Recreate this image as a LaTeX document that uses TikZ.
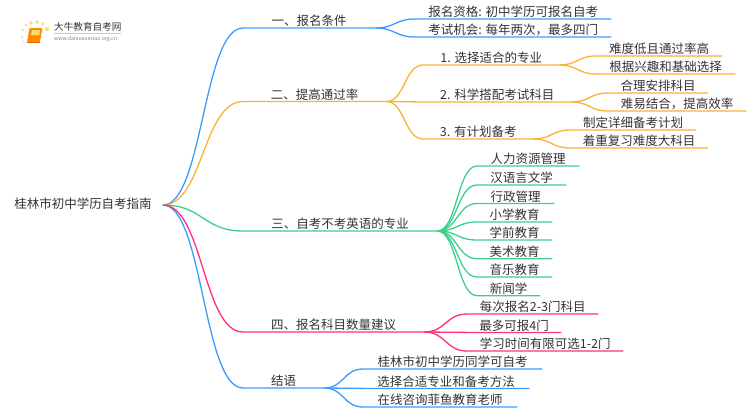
\documentclass[tikz,border=0pt]{standalone}
\usepackage{fontspec}
\setmainfont{Noto Sans CJK SC}
\usetikzlibrary{calc}
\definecolor{txtc}{HTML}{333333}
\definecolor{bluec}{HTML}{3A9BFF}
\definecolor{orgc}{HTML}{F9B233}
\definecolor{grnc}{HTML}{3CD08C}
\definecolor{pnkc}{HTML}{FF2F7E}
\definecolor{dotc}{HTML}{FFD878}
\tikzset{
	lab/.style={anchor=south west,inner sep=0pt,minimum height=12,text height=9.6,text depth=2,text=txtc,font=\fontsize{12.5}{13}\selectfont},
	rootn/.style={inner xsep=11,inner ysep=0pt,text height=9.6,text depth=2,text=txtc,font=\fontsize{12.5}{13}\selectfont},
	bl/.style={draw=bluec,line width=1.3pt},
	og/.style={draw=orgc,line width=1.3pt},
	gr/.style={draw=grnc,line width=1.3pt},
	pk/.style={draw=pnkc,line width=1.3pt},
	link/.style={to path={let \p1=(\tikztostart),\p2=(\tikztotarget),\n1={.5*(\x2-\x1)} in .. controls ({\x1+\n1},\y1) and ({\x2-\n1},\y2) .. (\tikztotarget)}}
}
\begin{document}
\begin{tikzpicture}[x=1pt,y=-1pt]
	\useasboundingbox (0,0) rectangle (750,410);
	% logo
	\foreach \px/\py/\pr in {47/29/2.2,43/24/1.6,37/22/1.9,31/23/1.8,26/25/1.5,23/30/1.3,22/37/1.1,23.5/42/.8}
		\fill[dotc] (\px,\py) circle (\pr);
	\fill[rounded corners=1pt,orange!90!yellow] (29.5,28) -- (42.5,28) -- (40,42) -- (27,42) -- cycle;
	\fill[rounded corners=.5pt,orange!45!yellow!60] (32,30) -- (40,30) -- (39.4,35) -- (31,35) -- cycle;
	\draw[orange!70!red,line width=.7pt] (27,42.5) -- (40,42.5);
	\node[inner sep=0pt,anchor=west,text=txtc,font=\fontsize{9.6}{10}\selectfont] (logot) at (54,27) {大牛教育自考网};
	\node[inner sep=0pt,anchor=west,text=gray,font=\fontsize{5.2}{6}\selectfont] (logou) at (54,39) {www.daniuxuexiao.org.cn};
	\draw[black!20,line width=.4pt] (logot.south west)++(0,1.5) -- ++(67,0);
	% root
	\node[rootn] (root) at (83,205) {桂林市初中学历自考指南};
	% level one
	\node[lab,minimum width=132] (a) at (243,28) {一、报名条件};
	\node[lab,minimum width=143] (b) at (243,101.5) {二、提高通过率};
	\node[lab,minimum width=194] (c) at (243,231) {三、自考不考英语的专业};
	\node[lab,minimum width=181] (d) at (243,332) {四、报名科目数量建议};
	\node[lab,minimum width=81] (e) at (243,388) {结语};
	% a
	\node[lab,minimum width=196] (a1) at (415,19) {报名资格: 初中学历可报名自考};
	\node[lab,minimum width=196] (a2) at (415,37) {考试机会: 每年两次，最多四门};
	% b
	\node[lab,minimum width=136] (b1) at (423,65) {1. 选择适合的专业};
	\node[lab,minimum width=148] (b2) at (423,102) {2. 科学搭配考试科目};
	\node[lab,minimum width=110] (b3) at (423,139) {3. 有计划备考};
	\node[lab,minimum width=126] (b11) at (596,56) {难度低且通过率高};
	\node[lab,minimum width=139] (b12) at (596,74) {根据兴趣和基础选择};
	\node[lab,minimum width=100] (b21) at (608,93) {合理安排科目};
	\node[lab,minimum width=138] (b22) at (608,111) {难易结合，提高效率};
	\node[lab,minimum width=126] (b31) at (570,130) {制定详细备考计划};
	\node[lab,minimum width=138] (b32) at (570,148) {着重复习难度大科目};
	% c
	\node[lab,minimum width=102] (c1) at (477,166) {人力资源管理};
	\node[lab,minimum width=89] (c2) at (477,185) {汉语言文学};
	\node[lab,minimum width=77] (c3) at (477,203.5) {行政管理};
	\node[lab,minimum width=75] (c4) at (477,222) {小学教育};
	\node[lab,minimum width=75] (c5) at (477,240) {学前教育};
	\node[lab,minimum width=75] (c6) at (477,258.7) {美术教育};
	\node[lab,minimum width=75] (c7) at (477,277) {音乐教育};
	\node[lab,minimum width=63] (c8) at (477,295.7) {新闻学};
	% d
	\node[lab,minimum width=131] (d1) at (467,314) {每次报名2-3门科目};
	\node[lab,minimum width=94] (d2) at (467,332.4) {最多可报4门};
	\node[lab,minimum width=156] (d3) at (467,351) {学习时间有限可选1-2门};
	% e
	\node[lab,minimum width=179] (e1) at (363,369) {桂林市初中学历同学可自考};
	\node[lab,minimum width=166] (e2) at (363,388.4) {选择合适专业和备考方法};
	\node[lab,minimum width=154] (e3) at (363,407) {在线咨询菲鱼教育老师};
	% connectors
	\draw[bl] (root.east) to[link] (a.south west) -- (a.south east);
	\draw[og] (root.east) to[link] (b.south west) -- (b.south east);
	\draw[gr] (root.east) to[link] (c.south west) -- (c.south east);
	\draw[bl] (root.east) to[link] (e.south west) -- (e.south east);
	\draw[pk] (root.east) to[link] (d.south west) -- (d.south east);
	\foreach \kid in {a1,a2}
		\draw[bl] (a.south east) to[link] (\kid.south west) -- (\kid.south east);
	\foreach \kid in {b1,b2,b3}
		\draw[og] (b.south east) to[link] (\kid.south west) -- (\kid.south east);
	\foreach \kid in {b11,b12}
		\draw[og] (b1.south east) to[link] (\kid.south west) -- (\kid.south east);
	\foreach \kid in {b21,b22}
		\draw[og] (b2.south east) to[link] (\kid.south west) -- (\kid.south east);
	\foreach \kid in {b31,b32}
		\draw[og] (b3.south east) to[link] (\kid.south west) -- (\kid.south east);
	\foreach \kid in {c1,c2,c3,c4,c5,c6,c7,c8}
		\draw[gr] (c.south east) to[link] (\kid.south west) -- (\kid.south east);
	\foreach \kid in {d1,d2,d3}
		\draw[pk] (d.south east) to[link] (\kid.south west) -- (\kid.south east);
	\foreach \kid in {e1,e2,e3}
		\draw[bl] (e.south east) to[link] (\kid.south west) -- (\kid.south east);
\end{tikzpicture}
\end{document}
